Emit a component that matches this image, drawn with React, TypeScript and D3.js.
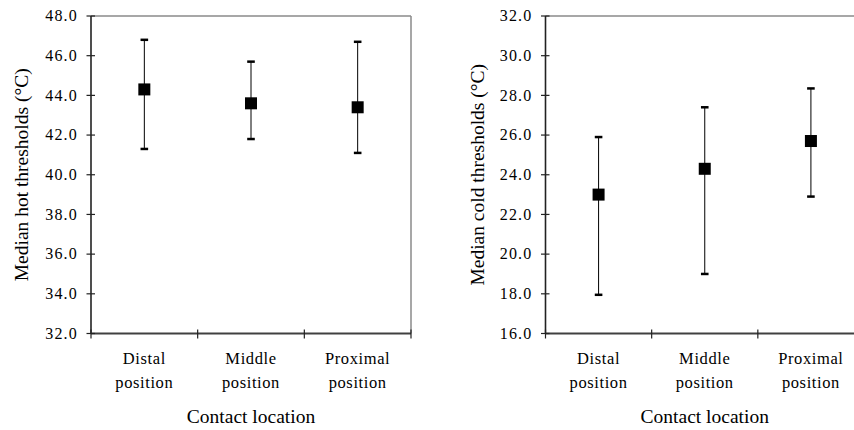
import * as d3 from 'd3';

// Data
const categories = [
  ['Distal', 'position'],
  ['Middle', 'position'],
  ['Proximal', 'position'],
];

const hotMedian = [44.3, 43.6, 43.4];
const hotUpper = [46.8, 45.7, 46.7];
const hotLower = [41.3, 41.8, 41.1];

const coldMedian = [23.0, 24.3, 25.7];
const coldUpper = [25.9, 27.4, 28.35];
const coldLower = [17.95, 19.0, 22.9];

const hotTicks = [32, 34, 36, 38, 40, 42, 44, 46, 48];
const coldTicks = [16, 18, 20, 22, 24, 26, 28, 30, 32];

const FONT = 'Liberation Serif, Times New Roman, DejaVu Serif, serif';

type PanelProps = {
  left: number;
  right: number;
  median: number[];
  upper: number[];
  lower: number[];
  ticks: number[];
  yTitle: string;
  titleX: number;
};

const Panel = ({ left, right, median, upper, lower, ticks, yTitle, titleX }: PanelProps) => {
  const top = 16;
  const bottom = 333.5;
  const names = categories.map(c => c[0]);

  const x = d3.scaleBand().domain(names).range([left, right]).padding(0);
  const y = d3
    .scaleLinear()
    .domain([d3.min(ticks) as number, d3.max(ticks) as number])
    .range([bottom, top]);

  const boundaries = [left, ...names.map(n => (x(n) as number) + x.bandwidth())];
  const cx = (n: string) => (x(n) as number) + x.bandwidth() / 2;

  return (
    <g>
      {/* plot border (top/right) */}
      <line x1={left} x2={right} y1={top} y2={top} stroke="#8a8a8a" strokeWidth={1.5} />
      <line x1={right} x2={right} y1={top} y2={bottom} stroke="#8a8a8a" strokeWidth={1.5} />

      {/* axes */}
      <line x1={left} x2={left} y1={top} y2={bottom} stroke="#222" strokeWidth={1.6} />
      <line x1={left} x2={right} y1={bottom} y2={bottom} stroke="#404040" strokeWidth={2} />

      {ticks.map(t => (
        <g key={t}>
          <line x1={left - 4.5} x2={left + 4} y1={y(t)} y2={y(t)} stroke="#222" strokeWidth={1.2} />
          <text
            x={left - 13}
            y={y(t)}
            dy="0.33em"
            textAnchor="end"
            fontSize={16}
            letterSpacing={1.2}
            style={{ fontFamily: FONT }}
            fill="#000"
          >
            {t.toFixed(1)}
          </text>
        </g>
      ))}

      {boundaries.map((b, i) => (
        <line key={i} x1={b} x2={b} y1={bottom - 4} y2={bottom + 5} stroke="#222" strokeWidth={1.2} />
      ))}

      {categories.map(c => (
        <text
          key={c[0]}
          x={cx(c[0])}
          textAnchor="middle"
          fontSize={16.5}
          letterSpacing={0.6}
          style={{ fontFamily: FONT }}
          fill="#000"
        >
          <tspan x={cx(c[0])} y={364}>{c[0]}</tspan>
          <tspan x={cx(c[0])} y={388}>{c[1]}</tspan>
        </text>
      ))}

      {/* error bars */}
      {names.map((n, i) => (
        <g key={n}>
          <line x1={cx(n)} x2={cx(n)} y1={y(upper[i])} y2={y(lower[i])} stroke="#000" strokeWidth={1} />
          <line x1={cx(n) - 3.8} x2={cx(n) + 3.8} y1={y(upper[i])} y2={y(upper[i])} stroke="#000" strokeWidth={2.5} />
          <line x1={cx(n) - 3.8} x2={cx(n) + 3.8} y1={y(lower[i])} y2={y(lower[i])} stroke="#000" strokeWidth={2.5} />
          <rect x={cx(n) - 6} y={y(median[i]) - 6} width={12} height={12} fill="#000" />
        </g>
      ))}

      {/* titles */}
      <text
        transform={`translate(${titleX},${(top + bottom) / 2}) rotate(-90)`}
        dy="0.35em"
        textAnchor="middle"
        fontSize={19.5}
        style={{ fontFamily: FONT }}
        fill="#000"
      >
        {yTitle}
      </text>
      <text
        x={(left + right) / 2}
        y={423}
        textAnchor="middle"
        fontSize={19.5}
        style={{ fontFamily: FONT }}
        fill="#000"
      >
        Contact location
      </text>
    </g>
  );
};

const App = () => {
  return (
    <svg
      width={854}
      height={430}
      style={{ position: 'absolute', left: 0, top: 0, background: '#fff' }}
    >
      <rect width={854} height={430} fill="#fff" />
      <Panel
        left={91}
        right={411}
        median={hotMedian}
        upper={hotUpper}
        lower={hotLower}
        ticks={hotTicks}
        yTitle="Median hot thresholds (°C)"
        titleX={21}
      />
      <Panel
        left={545.5}
        right={864}
        median={coldMedian}
        upper={coldUpper}
        lower={coldLower}
        ticks={coldTicks}
        yTitle="Median cold thresholds (°C)"
        titleX={477}
      />
    </svg>
  );
};

export default App;
